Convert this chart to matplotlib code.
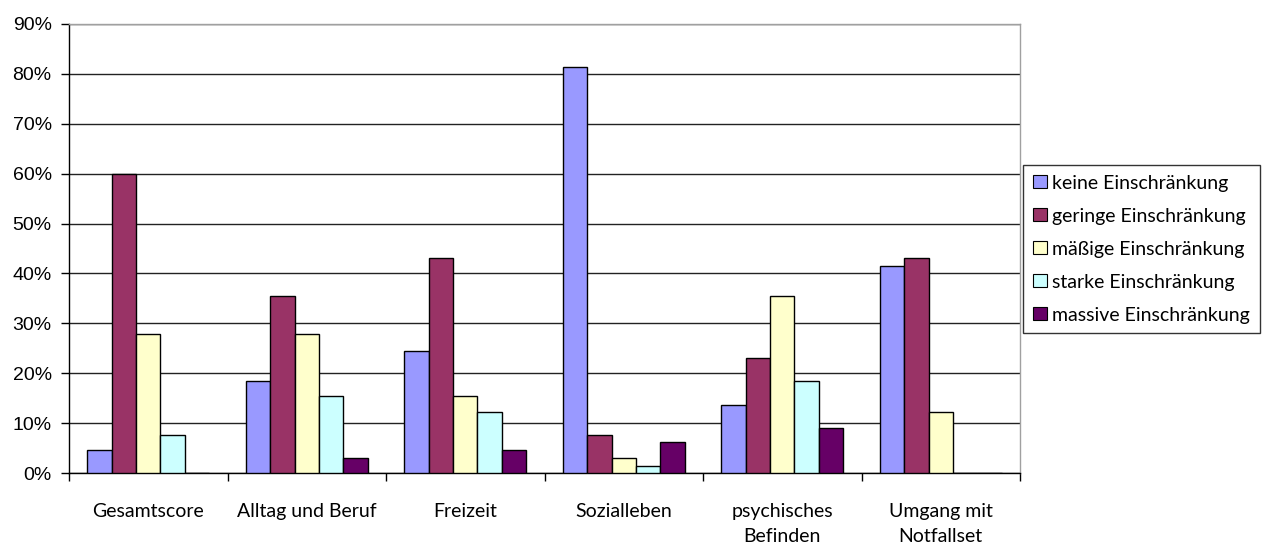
import numpy as np
import matplotlib
matplotlib.use("Agg")
from matplotlib import pyplot as plt
from matplotlib.patches import Patch

categories = ["Gesamtscore", "Alltag und Beruf", "Freizeit", "Sozialleben",
              "psychisches\nBefinden", "Umgang mit\nNotfallset"]
series = ["keine Einschränkung", "geringe Einschränkung", "mäßige Einschränkung",
          "starke Einschränkung", "massive Einschränkung"]
keine = [4.6, 18.4, 24.4, 81.4, 13.7, 41.5]
geringe = [60.0, 35.5, 43.1, 7.7, 23.0, 43.1]
maessige = [27.8, 27.8, 15.4, 3.0, 35.5, 12.3]
starke = [7.7, 15.4, 12.3, 1.4, 18.4, 0.0]
massive = [0.0, 3.0, 4.6, 6.3, 9.1, 0.0]
colors = ["#9999FF", "#993366", "#FFFFCC", "#CCFFFF", "#660066"]

values = [keine, geringe, maessige, starke, massive]

W, H = 1262, 546
fig = plt.figure(figsize=(W / 100, H / 100), dpi=100)
ax = fig.add_axes([69 / W, (H - 473) / H, 951 / W, 449 / H])

x = np.arange(len(categories))
bw = 0.154
for i, (vals, c) in enumerate(zip(values, colors)):
    pos = x + (i - 2) * bw
    ax.bar(pos, vals, width=bw, color=c, edgecolor="black", linewidth=1.0, zorder=3)

ax.set_xlim(-0.5, len(categories) - 0.5)
ax.set_ylim(0, 90)
ax.set_yticks(np.arange(0, 91, 10))
ax.set_yticklabels([f"{v}%" for v in range(0, 91, 10)],
                   fontfamily="Liberation Sans", fontsize=14)
ax.yaxis.grid(True, color="#222222", linewidth=1.0, zorder=0)
ax.tick_params(axis="y", direction="out", length=6, width=1, pad=6.5)

# Kategorienbeschriftung mittig, Trennstriche zwischen den Gruppen
ax.set_xticks(x)
ax.set_xticklabels(categories, fontfamily="Lato", fontsize=14, linespacing=1.58)
ax.tick_params(axis="x", length=0, pad=21.5)
ax.set_xticks(np.arange(-0.5, len(categories), 1), minor=True)
ax.tick_params(axis="x", which="minor", direction="out", length=5.5, width=1)

for s in ["left", "bottom"]:
    ax.spines[s].set_color("black")
    ax.spines[s].set_linewidth(1.0)
for s in ["top", "right"]:
    ax.spines[s].set_color("#A0A0A0")
    ax.spines[s].set_linewidth(1.0)

handles = [Patch(facecolor=c, edgecolor="black", linewidth=0.8) for c in colors]
leg = fig.legend(handles, series, loc="upper left",
                 bbox_to_anchor=(1023 / W, 1 - 165 / H),
                 prop={"family": "Lato", "size": 14}, frameon=True, fancybox=False,
                 handlelength=0.75, handleheight=0.65, handletextpad=0.25,
                 labelspacing=0.82, borderpad=0.5, borderaxespad=0)
leg.get_frame().set_edgecolor("black")
leg.get_frame().set_linewidth(1.0)

fig.savefig("out.png", dpi=100)
